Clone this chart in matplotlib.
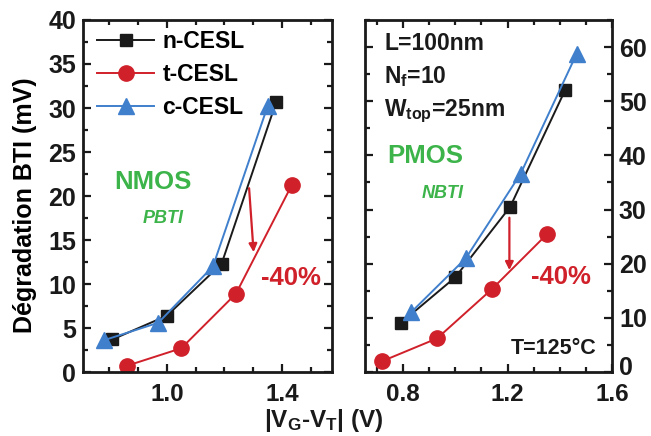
import numpy as np
import matplotlib
matplotlib.use('Agg')
import matplotlib.pyplot as plt
import matplotlib.transforms as mtransforms
from matplotlib.ticker import MultipleLocator, FixedLocator

# --- DATA ---
# NMOS (PBTI), left panel
nmos_n_x = [0.81, 1.00, 1.19, 1.38]
nmos_n_y = [3.7, 6.4, 12.3, 30.7]
nmos_t_x = [0.86, 1.05, 1.24, 1.435]
nmos_t_y = [0.7, 2.7, 8.9, 21.3]
nmos_c_x = [0.78, 0.97, 1.16, 1.35]
nmos_c_y = [3.6, 5.6, 12.0, 30.2]

# PMOS (NBTI), right panel
pmos_n_x = [0.79, 1.00, 1.21, 1.42]
pmos_n_y = [9.0, 17.5, 30.5, 52.0]
pmos_t_x = [0.72, 0.93, 1.14, 1.35]
pmos_t_y = [2.0, 6.2, 15.3, 25.4]
pmos_c_x = [0.83, 1.04, 1.25, 1.465]
pmos_c_y = [11.0, 21.0, 36.6, 58.8]

labels = ['n-CESL', 't-CESL', 'c-CESL']
left_xticks = [1.0, 1.4]
right_xticks = [0.8, 1.2, 1.6]
right_yticks = [0, 10, 20, 30, 40, 50, 60]

# --- STYLE ---
plt.rcParams['font.family'] = ['Liberation Sans', 'DejaVu Sans']
plt.rcParams['font.weight'] = 'bold'
plt.rcParams['mathtext.fontset'] = 'custom'
plt.rcParams['mathtext.rm'] = 'Liberation Sans:bold'
plt.rcParams['mathtext.it'] = 'Liberation Sans:bold:italic'
plt.rcParams['mathtext.bf'] = 'Liberation Sans:bold'

BLACK = '#1a1a1a'
RED = '#d0202a'
BLUE = '#3f7fcc'
GREEN = '#3cb44a'

fig = plt.figure(figsize=(6.51, 4.36), dpi=100)
ax1 = fig.add_axes([83 / 651, 64 / 436, 249 / 651, 352 / 436])
ax2 = fig.add_axes([365 / 651, 64 / 436, 247 / 651, 352 / 436])

def style_axes(ax):
    for s in ax.spines.values():
        s.set_linewidth(2.0)
        s.set_color(BLACK)
    ax.tick_params(which='both', direction='in', top=True, right=True,
                   width=1.6, colors=BLACK, labelsize=18, pad=5)
    ax.tick_params(axis='x', labelsize=17.5, pad=8)
    ax.tick_params(which='major', length=6)
    ax.tick_params(which='minor', length=3.5)

def draw_series(ax, nx, ny, tx, ty, cx, cy):
    ax.plot(nx, ny, '-s', color=BLACK, lw=1.4, ms=9, label=labels[0])
    ax.plot(tx, ty, '-o', color=RED, lw=1.4, ms=11, label=labels[1])
    ax.plot(cx, cy, '-^', color=BLUE, lw=1.4, ms=12, label=labels[2])

fmt = plt.FuncFormatter(lambda v, p: f'{v:.1f}')

# --- LEFT PANEL (NMOS) ---
draw_series(ax1, nmos_n_x, nmos_n_y, nmos_t_x, nmos_t_y, nmos_c_x, nmos_c_y)
ax1.set_xlim(0.708, 1.574)
ax1.set_ylim(0, 40)
ax1.xaxis.set_major_locator(FixedLocator(left_xticks))
ax1.xaxis.set_minor_locator(MultipleLocator(0.1))
ax1.yaxis.set_major_locator(MultipleLocator(5))
ax1.yaxis.set_minor_locator(MultipleLocator(2.5))
ax1.xaxis.set_major_formatter(fmt)
style_axes(ax1)
ax1.set_ylabel('Dégradation BTI (mV)', fontsize=18, fontweight='bold')
ax1.yaxis.set_label_coords(-0.185, 0.474)
ax1.legend(loc='upper left', frameon=False, fontsize=16.5, handlelength=2.5,
           handletextpad=0.35, labelspacing=0.45, borderaxespad=0, borderpad=0,
           bbox_to_anchor=(0.056, 0.972))
ax1.text(0.95, 21.6, 'NMOS', color=GREEN, fontsize=18.5, fontweight='bold', ha='center', va='center')
ax1.text(0.986, 17.4, 'PBTI', color=GREEN, fontsize=13, fontweight='bold', style='italic',
         ha='center', va='center')
ax1.text(1.431, 10.7, '-40%', color=RED, fontsize=18.5, fontweight='bold', ha='center', va='center')
ax1.annotate('', xy=(1.302, 13.3), xytext=(1.285, 21.2),
             arrowprops=dict(arrowstyle='-|>', color=RED, lw=1.6, mutation_scale=12))

# --- RIGHT PANEL (PMOS) ---
draw_series(ax2, pmos_n_x, pmos_n_y, pmos_t_x, pmos_t_y, pmos_c_x, pmos_c_y)
ax2.set_xlim(0.654, 1.6)
ax2.set_ylim(0, 65)
ax2.xaxis.set_major_locator(FixedLocator(right_xticks))
ax2.xaxis.set_minor_locator(MultipleLocator(0.1))
ax2.yaxis.set_major_locator(FixedLocator(right_yticks))
ax2.yaxis.set_minor_locator(MultipleLocator(5))
ax2.xaxis.set_major_formatter(fmt)
style_axes(ax2)
ax2.tick_params(axis='y', labelleft=False, labelright=True)
# nudge the "0" label up a little so it clears the "1.6" below it
zero_lab = ax2.yaxis.get_major_ticks()[0].label2
zero_lab.set_transform(zero_lab.get_transform() +
                       mtransforms.ScaledTranslation(0, 5 / 72, fig.dpi_scale_trans))
ax2.text(0.727, 60.6, 'L=100nm', fontsize=16.5, fontweight='bold', ha='left', va='center', color=BLACK)
ax2.text(0.727, 54.6, r'N$_{\rm f}$=10', fontsize=16.5, fontweight='bold', ha='left', va='center', color=BLACK)
ax2.text(0.727, 48.2, r'W$_{\rm top}$=25nm', fontsize=16.5, fontweight='bold', ha='left', va='center', color=BLACK)
ax2.text(0.885, 39.9, 'PMOS', color=GREEN, fontsize=18.5, fontweight='bold', ha='center', va='center')
ax2.text(0.95, 33.0, 'NBTI', color=GREEN, fontsize=13, fontweight='bold', style='italic',
         ha='center', va='center')
ax2.text(1.404, 17.5, '-40%', color=RED, fontsize=18.5, fontweight='bold', ha='center', va='center')
ax2.text(1.54, 4.4, 'T=125°C', fontsize=15.5, fontweight='bold', ha='right', va='center', color=BLACK)
ax2.annotate('', xy=(1.207, 18.3), xytext=(1.207, 29.0),
             arrowprops=dict(arrowstyle='-|>', color=RED, lw=1.6, mutation_scale=12))

fig.text(324 / 651, 1 - 420 / 436, r'|V$_{\rm G}$-V$_{\rm T}$| (V)', fontsize=17.5,
         fontweight='bold', ha='center', va='center', color=BLACK)

fig.savefig('out.png', dpi=100)
